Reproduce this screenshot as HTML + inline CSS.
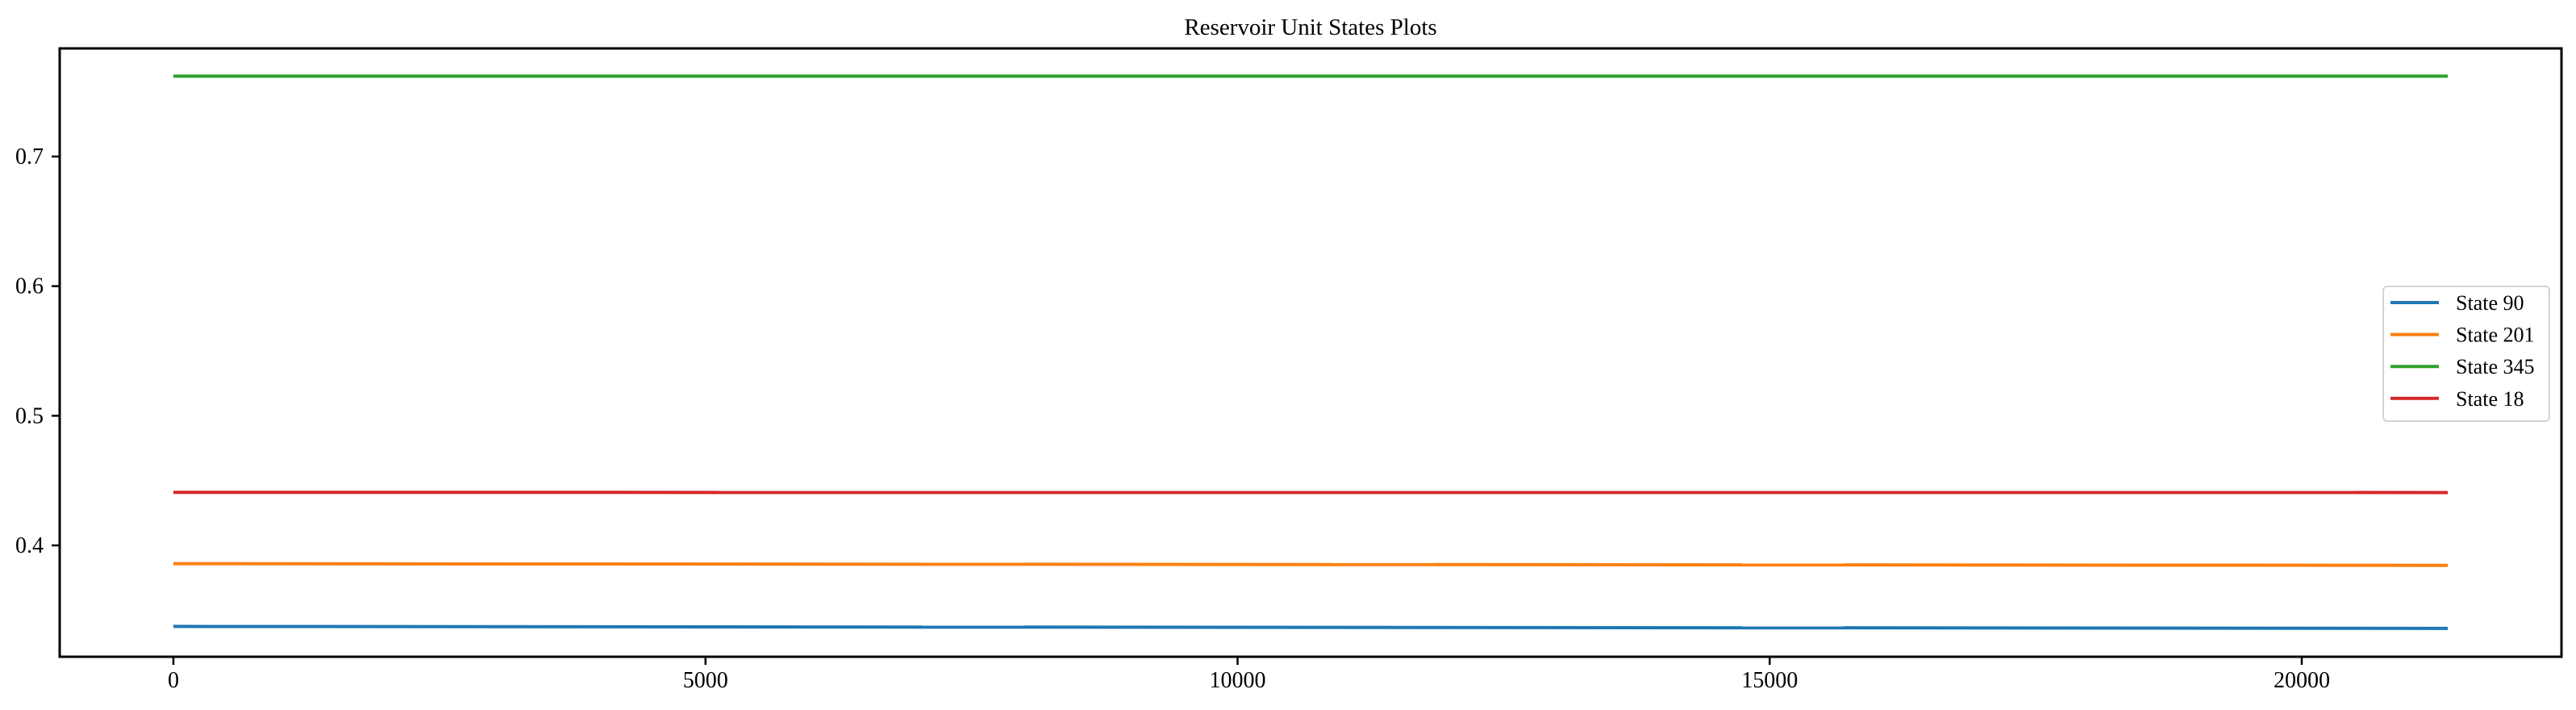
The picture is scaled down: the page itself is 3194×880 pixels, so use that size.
<!DOCTYPE html>
<html><head><meta charset="utf-8">
<style>
html,body{margin:0;padding:0;background:#fff;}
svg{display:block;font-family:"Liberation Serif",serif;}
</style></head>
<body>
<svg id="chart" width="3194" height="880" viewBox="0 0 3194 880" xmlns="http://www.w3.org/2000/svg">
<rect width="3194" height="880" fill="#fff"/>
<text x="1625" y="43" font-size="29" text-anchor="middle" fill="#000">Reservoir Unit States Plots</text>
<g id="plot"></g>
</svg>
<script>
const seriesNames = ["State 90","State 201","State 345","State 18"];
const seriesColors = ["#1f77b4","#ff7f0e","#2ca02c","#d62728"];
const xEnd = 21372;
const startValues = [0.3375, 0.3859, 0.7620, 0.4409];
const endValues = [0.3360, 0.3846, 0.7620, 0.4408];
const xTicks = [0,5000,10000,15000,20000];
const yTicks = [0.4,0.5,0.6,0.7];
const yTickLabels = ["0.4","0.5","0.6","0.7"];

const L=74,R=3176,T=60,B=814;
const xMin=-0.05*xEnd, xMax=1.05*xEnd, yMin=0.3141, yMax=0.7834;
const sx=v=>L+(v-xMin)/(xMax-xMin)*(R-L);
const sy=v=>B-(v-yMin)/(yMax-yMin)*(B-T);
const NS="http://www.w3.org/2000/svg";
const g=document.getElementById('plot');
function mk(tag,attrs,parent){const e=document.createElementNS(NS,tag);for(const k in attrs)e.setAttribute(k,attrs[k]);(parent||g).appendChild(e);return e;}

seriesNames.forEach((n,i)=>{
  const l=mk('line',{x1:sx(0),y1:sy(startValues[i]),x2:sx(xEnd),y2:sy(endValues[i]),stroke:seriesColors[i],'stroke-width':4});
  
  
});
const frame=mk('rect',{x:L,y:T,width:R-L,height:B-T,fill:'none',stroke:'#000','stroke-width':3});



xTicks.forEach(v=>{
  const x=sx(v);
  const t=mk('line',{x1:x,y1:B,x2:x,y2:B+10,stroke:'#000','stroke-width':2.5});
  
  
  const tx=mk('text',{x:x,y:B+38,'font-size':28,'text-anchor':'middle',fill:'#000'});
  tx.textContent=String(v);
  
  
});
yTicks.forEach((v,i)=>{
  const y=sy(v);
  const t=mk('line',{x1:L-10,y1:y,x2:L,y2:y,stroke:'#000','stroke-width':2.5});
  
  
  const tx=mk('text',{x:L-20,y:y+9,'font-size':28,'text-anchor':'end',fill:'#000'});
  tx.textContent=yTickLabels[i];
  
  
});

const lg=mk('g',{});


const box=mk('rect',{x:2955,y:355,width:206,height:167,rx:5,fill:'#fff',stroke:'#d0d0d0','stroke-width':2,opacity:0.9},lg);


seriesNames.forEach((n,i)=>{
  const y=375+i*39.6;
  const l=mk('line',{x1:2964,y1:y,x2:3024,y2:y,stroke:seriesColors[i],'stroke-width':4},lg);
  
  
  const t=mk('text',{x:3045,y:y+9,'font-size':26,fill:'#000'},lg);
  t.textContent=n;
  
  
});
</script>
</body></html>
